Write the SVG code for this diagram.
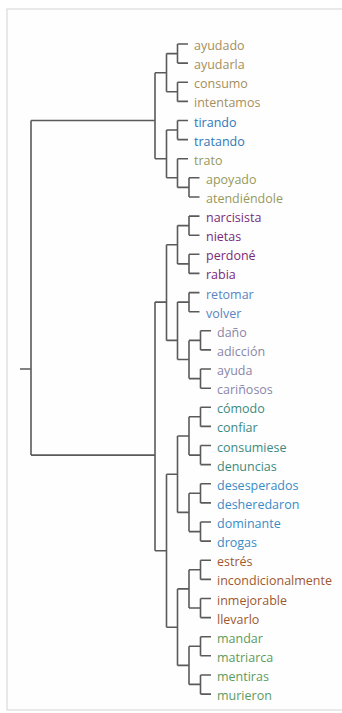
<svg xmlns="http://www.w3.org/2000/svg" width="342" height="713" viewBox="0 0 342 713">
<style>
text{font-family:"Open Sans","Liberation Sans",sans-serif;font-size:12.5px}
.ln{fill:none;stroke:#5a5a5a;stroke-width:1.6}
.tan{fill:#a58f5c}
.olv{fill:#979a5b}
.blu{fill:#2f78b6}
.pur{fill:#7b2a78}
.sbl{fill:#5b85bf}
.lav{fill:#8a86a8}
.tea{fill:#3b8a80}
.dbl{fill:#3a8bc6}
.brn{fill:#a0582e}
.grn{fill:#5d9b5d}
</style>
<rect x="0" y="0" width="342" height="713" fill="#ffffff"/>
<rect x="7" y="9" width="345" height="701" fill="#fefefe" stroke="#d4d4d4" stroke-width="1"/>
<g id="connectors" class="ln">
<path d="M20,369H31M31,120.5V455.1M31,120.5H155M31,455.1H155"/>
<path d="M155,72.7V158.7M155,72.7H166.5M155,158.7H166.5"/>
<path d="M166.5,53.6V91.8M166.5,53.6H177.5M166.5,91.8H177.5"/>
<path d="M177.5,44V63.1M177.5,44H188M177.5,63.1H188"/>
<path d="M177.5,82.2V101.4M177.5,82.2H188M177.5,101.4H188"/>
<path d="M166.5,130V177.8M166.5,130H177.5M166.5,177.8H177.5"/>
<path d="M177.5,120.5V139.6M177.5,120.5H188M177.5,139.6H188"/>
<path d="M177.5,158.7V187.4M177.5,158.7H188M177.5,187.4H189"/>
<path d="M189,177.8V197M189,177.8H199.5M189,197H199.5"/>
<path d="M155,302.1V550.7"/>
<path d="M155,302.1H166.5M166.5,244.8V340.4M166.5,244.8H177.5M166.5,340.4H177.5"/>
<path d="M177.5,225.6V263.9M177.5,225.6H189M177.5,263.9H189"/>
<path d="M189,216.1V235.2M189,216.1H199.5M189,235.2H199.5"/>
<path d="M189,254.3V273.4M189,254.3H199.5M189,273.4H199.5"/>
<path d="M177.5,302.1V359.5M177.5,302.1H189M177.5,359.5H189"/>
<path d="M189,292.6V311.7M189,292.6H199.5M189,311.7H199.5"/>
<path d="M189,340.4V378.6M189,340.4H200.5M189,378.6H200.5"/>
<path d="M200.5,330.8V349.9M200.5,330.8H211M200.5,349.9H211"/>
<path d="M200.5,369V388.2M200.5,369H211M200.5,388.2H211"/>
<path d="M155,550.7H166.5M166.5,474.2V627.2M166.5,474.2H177.5M166.5,627.2H177.5"/>
<path d="M177.5,436V512.4M177.5,436H189M177.5,512.4H189"/>
<path d="M189,416.8V455.1M189,416.8H200.5M189,455.1H200.5"/>
<path d="M200.5,407.3V426.4M200.5,407.3H211M200.5,426.4H211"/>
<path d="M200.5,445.5V464.6M200.5,445.5H211M200.5,464.6H211"/>
<path d="M189,493.3V531.6M189,493.3H200.5M189,531.6H200.5"/>
<path d="M200.5,483.8V502.9M200.5,483.8H211M200.5,502.9H211"/>
<path d="M200.5,522V541.1M200.5,522H211M200.5,541.1H211"/>
<path d="M177.5,588.9V665.4M177.5,588.9H189M177.5,665.4H189"/>
<path d="M189,569.8V608M189,569.8H200.5M189,608H200.5"/>
<path d="M200.5,560.2V579.4M200.5,560.2H211M200.5,579.4H211"/>
<path d="M200.5,598.5V617.6M200.5,598.5H211M200.5,617.6H211"/>
<path d="M189,646.3V684.4M189,646.3H200.5M189,684.4H200.5"/>
<path d="M200.5,636.7V655.8M200.5,636.7H211M200.5,655.8H211"/>
<path d="M200.5,675V694.1M200.5,675H211M200.5,694.1H211"/>
</g>
<g id="ayudado"><text class="tan" x="194" y="50">ayudado</text></g>
<g id="ayudarla"><text class="tan" x="194" y="69.1">ayudarla</text></g>
<g id="consumo"><text class="tan" x="194" y="88.2">consumo</text></g>
<g id="intentamos"><text class="tan" x="194" y="107.4">intentamos</text></g>
<g id="tirando"><text class="blu" x="194" y="126.5">tirando</text></g>
<g id="tratando"><text class="blu" x="194" y="145.6">tratando</text></g>
<g id="trato"><text class="olv" x="194" y="164.7">trato</text></g>
<g id="apoyado"><text class="olv" x="206" y="183.8">apoyado</text></g>
<g id="atendiendole"><text class="olv" x="206" y="203">atendiéndole</text></g>
<g id="narcisista"><text class="pur" x="206" y="222.1">narcisista</text></g>
<g id="nietas"><text class="pur" x="206" y="241.2">nietas</text></g>
<g id="perdone"><text class="pur" x="206" y="260.3">perdoné</text></g>
<g id="rabia"><text class="pur" x="206" y="279.4">rabia</text></g>
<g id="retomar"><text class="sbl" x="206" y="298.6">retomar</text></g>
<g id="volver"><text class="sbl" x="206" y="317.7">volver</text></g>
<g id="dano"><text class="lav" x="217" y="336.8">daño</text></g>
<g id="adiccion"><text class="lav" x="217" y="355.9">adicción</text></g>
<g id="ayuda"><text class="lav" x="217" y="375">ayuda</text></g>
<g id="carinosos"><text class="lav" x="217" y="394.2">cariñosos</text></g>
<g id="comodo"><text class="tea" x="217" y="413.3">cómodo</text></g>
<g id="confiar"><text class="tea" x="217" y="432.4">confiar</text></g>
<g id="consumiese"><text class="tea" x="217" y="451.5">consumiese</text></g>
<g id="denuncias"><text class="tea" x="217" y="470.6">denuncias</text></g>
<g id="desesperados"><text class="dbl" x="217" y="489.8">desesperados</text></g>
<g id="desheredaron"><text class="dbl" x="217" y="508.9">desheredaron</text></g>
<g id="dominante"><text class="dbl" x="217" y="528">dominante</text></g>
<g id="drogas"><text class="dbl" x="217" y="547.1">drogas</text></g>
<g id="estres"><text class="brn" x="217" y="566.2">estrés</text></g>
<g id="incondicionalmente"><text class="brn" x="217" y="585.4">incondicionalmente</text></g>
<g id="inmejorable"><text class="brn" x="217" y="604.5">inmejorable</text></g>
<g id="llevarlo"><text class="brn" x="217" y="623.6">llevarlo</text></g>
<g id="mandar"><text class="grn" x="217" y="642.7">mandar</text></g>
<g id="matriarca"><text class="grn" x="217" y="661.8">matriarca</text></g>
<g id="mentiras"><text class="grn" x="217" y="681">mentiras</text></g>
<g id="murieron"><text class="grn" x="217" y="700.1">murieron</text></g>
</svg>
